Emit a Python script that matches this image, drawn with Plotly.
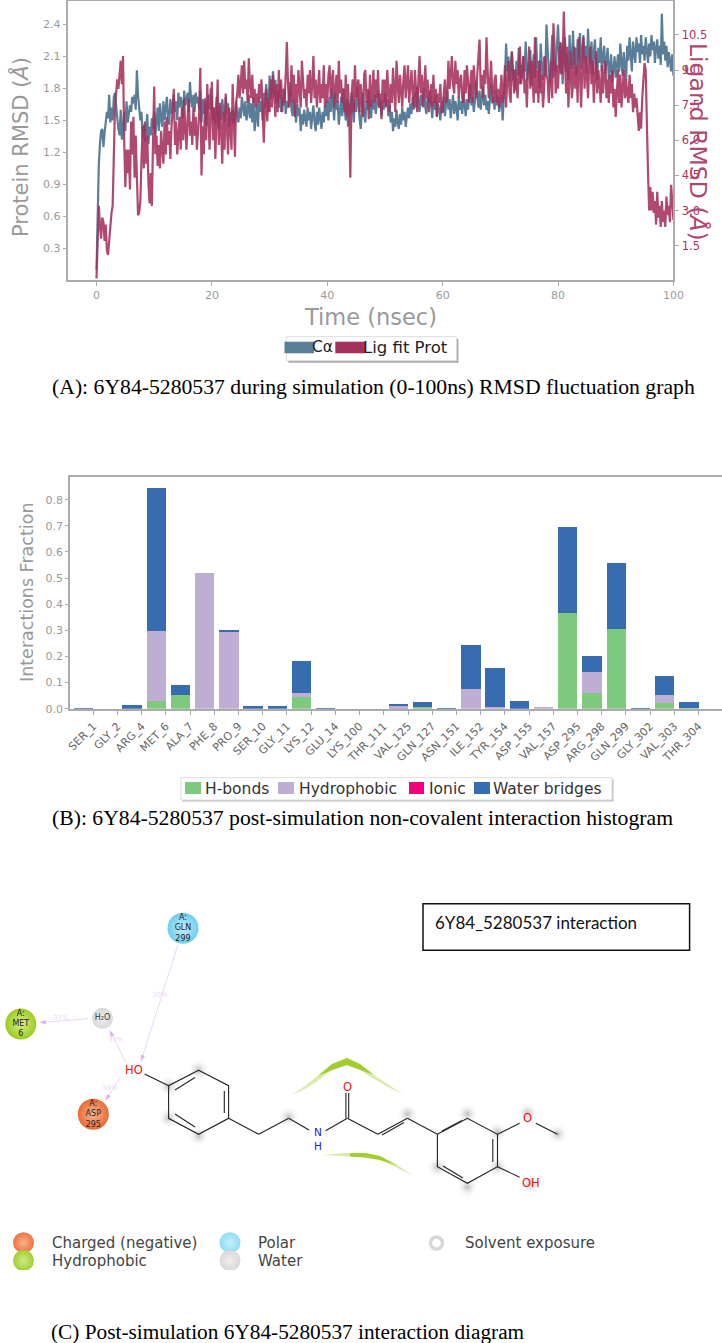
import plotly.graph_objects as go

W, H = 722, 1343

# ---------- Panel A data ----------
ca_rmsd = [
 0.10,0.62,1.08,1.28,1.40,1.42,1.25,1.38,1.46,1.58,1.52,1.74,1.48,1.62,1.50,1.72,1.76,1.60,1.52,1.42,1.36,1.60,1.32,1.44,1.58,1.40,1.68,1.48,1.56,1.64,1.58,1.72,1.66,1.74,1.60,1.97,1.74,1.62,1.50,1.58,1.34,1.46,1.30,1.42,1.56,1.28,1.44,1.36,1.52,1.42,
 1.58,1.36,1.48,1.62,1.40,1.66,1.52,1.44,1.68,1.50,1.60,1.72,1.54,1.46,1.70,1.56,1.64,1.74,1.58,1.68,1.50,1.76,1.62,1.72,1.66,1.52,1.78,1.64,1.70,1.76,1.58,1.86,1.70,1.62,1.74,1.58,1.76,1.66,1.72,1.60,1.78,1.48,1.70,1.56,1.68,1.45,1.62,1.74,1.60,1.80,
 1.66,1.50,1.62,1.46,1.72,1.56,1.42,1.64,1.50,1.70,1.60,1.48,1.72,1.56,1.66,1.44,1.58,1.50,1.60,1.46,1.52,1.68,1.56,1.48,1.62,1.52,1.72,1.60,1.54,1.68,1.50,1.58,1.74,1.52,1.66,1.48,1.72,1.40,1.56,1.66,1.44,1.72,1.58,1.68,1.50,1.76,1.62,1.84,1.70,1.58,
 1.92,1.70,1.80,1.96,1.72,1.88,1.66,1.78,1.62,1.84,1.58,1.72,1.64,1.80,1.56,1.68,1.62,1.76,1.86,1.60,1.54,1.70,1.60,1.48,1.66,1.54,1.62,1.40,1.56,1.46,1.60,1.52,1.44,1.62,1.50,1.58,1.42,1.54,1.64,1.48,1.40,1.58,1.46,1.62,1.52,1.42,1.58,1.48,1.64,1.54,
 1.68,1.50,1.72,1.58,1.80,1.62,1.50,1.76,1.60,1.68,1.46,1.58,1.72,1.54,1.80,1.62,1.50,1.70,1.44,1.66,1.56,1.76,1.62,1.48,1.70,1.58,1.82,1.64,1.52,1.42,1.66,1.76,1.56,1.48,1.68,1.60,1.78,1.64,1.52,1.70,1.60,1.74,1.56,1.66,1.78,1.62,1.70,1.54,1.68,1.60,
 1.76,1.64,1.70,1.54,1.64,1.48,1.58,1.40,1.52,1.44,1.60,1.48,1.42,1.56,1.46,1.62,1.50,1.58,1.44,1.54,1.62,1.52,1.66,1.56,1.72,1.60,1.76,1.62,1.82,1.66,1.58,1.74,1.64,1.70,1.80,1.62,1.56,1.72,1.66,1.78,1.60,1.52,1.68,1.60,1.74,1.54,1.66,1.60,1.50,1.64,
 1.58,1.72,1.54,1.66,1.78,1.60,1.70,1.52,1.62,1.74,1.56,1.68,1.62,1.50,1.72,1.60,1.68,1.56,1.76,1.62,1.54,1.70,1.60,1.74,1.84,1.64,1.72,1.58,1.68,1.86,1.72,1.62,1.78,1.60,1.70,1.82,1.64,1.74,1.60,1.68,1.56,1.76,1.84,1.66,1.72,1.60,1.78,1.64,1.72,1.58,
 1.68,1.74,1.50,1.66,1.90,2.22,1.96,2.10,1.86,2.02,2.14,1.88,1.98,1.78,2.06,1.92,2.18,1.84,2.02,1.90,2.10,1.96,2.24,1.88,2.04,1.94,2.16,1.82,2.00,2.12,1.90,2.28,1.98,2.06,1.80,2.22,2.00,1.88,2.10,1.92,2.40,2.08,1.96,1.84,2.14,2.30,1.90,2.06,1.96,2.18,
 2.40,2.12,1.94,2.22,1.84,2.04,2.28,1.96,2.12,1.88,2.30,2.10,1.98,2.34,2.02,2.18,1.92,2.26,2.08,2.32,1.98,2.14,2.30,2.06,2.20,1.94,2.36,2.10,2.02,2.24,1.92,2.14,2.26,2.00,1.88,2.18,2.04,2.28,1.96,2.10,2.20,1.94,2.06,2.18,1.88,2.02,2.12,1.86,1.98,2.10,
 1.90,2.04,2.12,1.96,2.22,2.04,1.92,2.14,2.00,1.88,2.20,2.06,2.28,2.10,1.96,2.24,2.10,2.04,2.28,2.14,2.22,2.04,2.30,2.12,2.20,2.06,2.28,2.14,2.04,2.22,2.10,2.30,2.16,2.24,2.04,2.18,2.26,2.08,2.20,2.02,2.50,2.12,2.24,2.06,2.20,2.00,2.14,2.06,1.96,2.12,
 1.92]
lig_rmsd = [
 0.10,1.9,3.2,2.4,1.8,2.7,2.5,1.7,2.4,1.3,1.1,1.7,2.4,2.9,3.2,5.0,7.4,8.0,8.6,8.2,9.0,9.4,8.4,9.6,6.0,4.0,5.6,4.6,5.6,3.9,6.8,5.4,7.0,4.4,6.2,4.6,2.8,2.9,3.4,5.2,6.6,4.8,6.8,5.0,6.2,4.2,3.3,4.6,3.2,6.0,
 8.3,5.4,6.2,4.9,5.8,4.8,6.4,5.6,5.0,6.8,5.4,7.0,5.8,6.4,5.2,6.6,7.2,8.2,5.8,6.8,5.4,6.2,7.0,5.6,7.4,6.0,7.8,6.4,5.6,7.0,7.8,6.2,6.8,5.8,7.4,6.2,7.0,5.6,6.4,7.2,9.1,4.5,6.6,5.4,7.8,6.0,8.4,6.4,5.6,7.2,
 8.5,6.0,7.4,5.2,6.8,8.6,5.8,7.6,6.4,5.0,7.2,5.6,8.0,6.8,5.4,7.4,6.2,5.6,8.4,7.0,5.3,7.6,8.0,8.8,7.8,8.4,9.2,8.0,9.4,8.2,8.6,7.6,9.5,8.4,7.8,8.8,7.6,8.2,7.4,8.0,7.6,8.4,7.8,8.6,7.0,5.9,7.4,8.2,6.8,7.8,
 7.2,8.6,7.4,8.8,8.0,7.0,8.4,7.2,9.0,7.8,8.6,7.2,8.2,7.6,8.8,10.2,8.4,7.4,8.0,9.2,7.6,8.8,7.0,8.4,7.6,9.0,8.2,7.4,9.4,8.6,7.8,8.2,7.4,8.8,8.0,9.0,7.6,8.4,9.6,7.8,8.6,7.4,8.2,9.0,7.6,8.4,7.8,9.2,7.4,8.4,
 7.6,8.8,9.2,7.8,8.6,9.0,7.4,8.2,8.8,7.6,9.4,8.0,8.6,7.6,8.2,7.2,8.8,7.0,8.4,7.2,4.4,7.8,8.6,7.2,9.2,7.8,8.4,8.6,7.2,8.4,7.6,7.0,8.8,9.0,7.6,8.2,6.9,8.8,7.4,8.0,9.0,7.6,8.6,7.8,9.0,7.4,8.0,6.9,8.6,7.6,
 8.6,7.4,9.0,7.8,7.2,8.4,7.6,9.1,8.0,7.2,9.4,8.2,7.6,8.8,8.0,7.4,8.6,9.2,7.8,8.4,9.2,7.6,8.4,9.0,8.0,7.4,9.0,8.2,7.2,8.6,9.6,8.0,8.8,7.4,8.2,9.2,7.8,8.6,7.2,8.0,8.4,7.4,8.8,7.6,8.2,7.0,8.0,7.6,8.4,7.2,
 7.2,8.0,8.6,7.6,7.8,9.4,8.2,8.8,9.6,8.4,8.0,9.4,8.4,9.0,7.8,8.6,8.8,7.8,7.6,9.0,8.0,9.2,8.6,7.6,8.4,9.0,7.6,9.2,8.4,7.8,8.8,9.6,10.3,8.2,8.8,7.8,9.0,8.4,10.4,9.0,7.8,8.4,9.4,8.0,7.6,8.6,8.8,7.6,8.2,7.4,
 8.2,8.8,7.6,8.0,9.2,7.4,8.6,9.4,8.0,7.6,9.8,8.6,8.0,9.0,8.4,7.8,9.2,10.0,8.4,8.8,9.6,8.0,8.6,7.4,9.0,10.0,8.2,9.4,8.6,7.6,10.4,8.0,9.0,7.6,9.4,8.0,8.8,7.4,8.2,9.6,8.8,8.6,7.6,8.4,9.4,7.8,11.0,10.0,8.0,9.2,
 8.2,9.6,10.2,8.8,9.4,11.5,9.2,8.0,10.0,7.4,8.8,9.8,7.8,8.4,10.0,8.2,9.2,7.6,10.4,8.6,7.4,9.0,10.4,8.2,9.6,8.8,7.8,9.2,10.0,8.4,9.4,7.6,8.6,9.8,8.0,9.0,8.4,7.6,9.2,8.0,8.8,9.4,7.8,8.6,7.6,8.8,8.0,9.0,7.4,8.2,
 7.0,8.2,9.0,7.6,8.8,7.4,8.4,9.0,7.8,8.6,8.0,7.6,8.8,7.8,8.4,7.2,8.0,7.4,7.8,6.8,6.4,7.2,6.5,7.8,8.6,9.3,9.0,6.0,4.6,3.0,4.0,3.0,3.8,2.9,3.4,2.4,3.8,2.7,3.2,2.3,3.4,2.5,3.0,2.3,3.6,2.8,3.2,2.5,4.1,3.4,
 2.6]
time_ca = [i * 100 / (len(ca_rmsd) - 1) for i in range(len(ca_rmsd))]
time_lig = [i * 100 / (len(lig_rmsd) - 1) for i in range(len(lig_rmsd))]

# ---------- Panel B data ----------
residues = ["SER_1","GLY_2","ARG_4","MET_6","ALA_7","PHE_8","PRO_9","SER_10","GLY_11","LYS_12","GLU_14","LYS_100","THR_111",
            "VAL_125","GLN_127","ASN_151","ILE_152","TYR_154","ASP_155","VAL_157","ASP_295","ARG_298","GLN_299","GLY_302","VAL_303","THR_304"]
hbonds = [0,0,0,.03,.055,0,0,0,0,.046,0,0,0,.001,.006,0,0,0,0,0,.368,.062,.306,0,.022,.004]
hydrophobic = [0,0,0,.268,0,.522,.296,0,0,.015,0,0,0,.011,0,0,.078,.007,0,.006,0,.078,0,0,.033,0]
ionic = [0]*26
water = [.003,0,.017,.548,.036,0,.003,.013,.012,.124,.003,0,0,.006,.02,.003,.166,.151,.032,0,.33,.064,.254,.003,.073,.024]
positions = list(range(len(residues)))
tick_pos = [p + 0.4 for p in positions]

# ---------- Panel C data (diagram, in page pixels) ----------
r1 = [(198.6,1070.3),(228.6,1085.7),(228.6,1118.3),(198.6,1134.3),(168.6,1118.3),(168.6,1085.7)]
r2 = [(437.4,1134.3),(467.4,1118.3),(497.5,1134.3),(497.5,1166.7),(467.4,1183.3),(437.4,1166.7)]
bonds = [
 ((144.6,1074),(168.6,1085.7)),((228.6,1118.3),(258.7,1134.3)),((258.7,1134.3),(288.7,1118.3)),
 ((288.7,1118.3),(309,1130)),((325.6,1130.7),(347.3,1118.3)),((347.3,1118.3),(377.8,1134.3)),
 ((377.8,1134.3),(407.4,1118.3)),((407.4,1118.3),(437.4,1134.3)),((497.5,1134.3),(519.6,1123.3)),
 ((535.8,1123.3),(557.5,1134.3)),((497.5,1166.7),(519.6,1177.3)),((345.9,1118.3),(345.9,1093)),((348.7,1118.3),(348.7,1093)),
]
inner = [
 ((175,1090),(195,1077.5)),((224.3,1091),(224.3,1113)),((175,1114),(195,1127)),
 ((382,1135),(404,1122.5)),((442,1131),(462,1120.5)),((492.8,1139),(492.8,1162)),((443,1166),(463,1178)),
]
exposure = [(198.6,1070),(168.6,1086),(168.6,1118),(198.6,1136),(407.4,1114),(467.4,1114),(497.5,1132),(557.5,1134),
            (437.4,1167),(497.5,1167),(467.4,1187),(531,1184),(527.5,1113),(288.7,1117)]
atom_text = [("HO",134,1070,"#f01010"),("O",347.3,1086.5,"#f01010"),("N",317.8,1132,"#2020e0"),("H",317.8,1146,"#2020e0"),
             ("O",527.5,1118.3,"#f01010"),("OH",531,1182.7,"#f01010")]
residue_x = [183,20.8,93.3]
residue_y = [928.3,1024,1114.3]
residue_text = ["A:<br>GLN<br>299","A:<br>MET<br>6","A:<br>ASP<br>295"]
residue_fill = ["#70cdee","#9ccc20","#ea6a33"]
residue_glow = ["#c4edfa","#d5ee8c","#f6b596"]
arrows = [((177.8,945),(140.9,1061.7)),((87.8,1018.7),(39.3,1022.7)),((125.6,1061.7),(109.5,1030)),((121,1076.7),(105.3,1100.7))]
arrow_labels = [("30%",160.3,995),("37%",61,1018),("37%",115.5,1040),("36%",110,1088.3)]
arc_top_pale = [(292,1095),(305,1086),(318,1075.5),(332,1064),(347,1058),(360,1064),(374,1075),(390,1086),(404,1095),(390,1088),(374,1079),(360,1070),(347,1065),(332,1070),(318,1080.5),(305,1089),(292,1095)]
arc_top_core = [(318,1076),(332,1064),(347,1058),(360,1064),(374,1075),(360,1070),(347,1065),(332,1070),(318,1076)]
arc_bot_pale = [(323,1155),(345,1153),(365,1153),(380,1156),(396,1164),(413,1176),(396,1167),(380,1160),(365,1157.5),(345,1156.5),(323,1155)]
arc_bot_core = [(350,1153.2),(365,1153),(380,1156),(396,1165),(380,1160),(365,1157.5),(350,1156.5),(350,1153.2)]
key_dots = [(23.5,1242.7,"#ee7440","#f8b090"),(23.5,1260.5,"#a0d030","#cfe98a"),(230,1242.7,"#8fdcf6","#c8f0fc"),(230,1260.5,"#d8d8d8","#eeeeee")]
key_text = [("Charged (negative)",51.7,1242.7),("Hydrophobic",51.7,1261),("Polar",258,1242.7),("Water",258,1261),("Solvent exposure",465,1242.7)]

BLUE = "#5b7f99"; RED = "#a5305c"; GREY = "#9a9a9a"; SPINE = "#ababab"
px = lambda x: x / W
py = lambda y: 1 - y / H

fig = go.Figure()

# Panel A
fig.add_trace(go.Scatter(x=time_ca, y=ca_rmsd, name="Cα", mode="lines", line=dict(color=BLUE, width=2.2), xaxis="x", yaxis="y", showlegend=False))
fig.add_trace(go.Scatter(x=time_lig, y=lig_rmsd, name="Lig fit Prot", mode="lines", opacity=0.88, line=dict(color=RED, width=2.2), xaxis="x", yaxis="y2", showlegend=False))

# Panel B
for name, vals, col in [("H-bonds", hbonds, "#7fc97f"), ("Hydrophobic", hydrophobic, "#beaed4"), ("Ionic", ionic, "#f0027f"), ("Water bridges", water, "#386cb0")]:
    fig.add_trace(go.Bar(x=positions, y=vals, name=name, width=0.8, marker=dict(color=col, line=dict(width=0)), xaxis="x2", yaxis="y3", showlegend=False))

# Panel C
def seg(p, q, color, width):
    fig.add_trace(go.Scatter(x=[p[0], q[0]], y=[p[1], q[1]], mode="lines", line=dict(color=color, width=width), xaxis="x3", yaxis="y4", showlegend=False, hoverinfo="skip"))

fig.add_trace(go.Scatter(x=[p[0] for p in exposure], y=[p[1] for p in exposure], mode="markers",
    marker=dict(size=22, color="rgba(255,255,255,0)", gradient=dict(type="radial", color="rgba(165,165,165,0.7)"), line=dict(width=0)),
    xaxis="x3", yaxis="y4", showlegend=False, hoverinfo="skip"))
for poly, col in [(arc_top_pale, "rgba(170,210,60,0.45)"), (arc_top_core, "rgba(150,200,25,0.85)"),
                  (arc_bot_pale, "rgba(170,210,60,0.45)"), (arc_bot_core, "rgba(150,200,25,0.85)")]:
    fig.add_trace(go.Scatter(x=[p[0] for p in poly], y=[p[1] for p in poly], mode="lines", fill="toself", fillcolor=col,
        line=dict(width=0, color=col), xaxis="x3", yaxis="y4", showlegend=False, hoverinfo="skip"))
for ring in (r1, r2):
    xs = [p[0] for p in ring] + [ring[0][0]]
    ys = [p[1] for p in ring] + [ring[0][1]]
    fig.add_trace(go.Scatter(x=xs, y=ys, mode="lines", line=dict(color="#222", width=1.1), xaxis="x3", yaxis="y4", showlegend=False, hoverinfo="skip"))
for p, q in bonds + inner:
    seg(p, q, "#222", 1.1)
for p, q in arrows:
    fig.add_trace(go.Scatter(x=[p[0], q[0]], y=[p[1], q[1]], mode="lines+markers", line=dict(color="#f0d4fa", width=1),
        marker=dict(symbol="arrow", angleref="previous", size=[0, 7], color="#d98cf0", line=dict(width=0)),
        xaxis="x3", yaxis="y4", showlegend=False, hoverinfo="skip"))
fig.add_trace(go.Scatter(x=residue_x, y=residue_y, mode="markers+text", text=residue_text, textposition="middle center",
    textfont=dict(family="DejaVu Sans", size=8, color="#222"),
    marker=dict(size=31, color=residue_fill, gradient=dict(type="radial", color=residue_glow), line=dict(width=0)),
    xaxis="x3", yaxis="y4", showlegend=False, hoverinfo="skip"))
fig.add_trace(go.Scatter(x=[102.5], y=[1018.3], mode="markers+text", text=["H₂O"], textposition="middle center",
    textfont=dict(family="DejaVu Sans", size=8, color="#333"),
    marker=dict(size=21, color="#d8d8d8", gradient=dict(type="radial", color="#f0f0f0"), line=dict(width=0)),
    xaxis="x3", yaxis="y4", showlegend=False, hoverinfo="skip"))
fig.add_trace(go.Scatter(x=[k[0] for k in key_dots], y=[k[1] for k in key_dots], mode="markers",
    marker=dict(size=21, color=[k[2] for k in key_dots], gradient=dict(type="radial", color=[k[3] for k in key_dots]), line=dict(width=0)),
    xaxis="x3", yaxis="y4", showlegend=False, hoverinfo="skip"))
fig.add_trace(go.Scatter(x=[436.5], y=[1243], mode="markers",
    marker=dict(size=12, color="rgba(255,255,255,1)", line=dict(color="rgba(175,175,175,0.5)", width=3.5)),
    xaxis="x3", yaxis="y4", showlegend=False, hoverinfo="skip"))

ann = []
def label(text, x, y, size, color, family="DejaVu Sans", xanchor="left", angle=0):
    ann.append(dict(text=text, x=px(x), y=py(y), xref="paper", yref="paper", xanchor=xanchor, yanchor="middle",
                    showarrow=False, textangle=angle, font=dict(family=family, size=size, color=color)))

label("Protein RMSD (<i>Å</i>)", 20, 147, 21, "#999999", xanchor="center", angle=-90)
label("Ligand RMSD (<i>Å</i>)", 698, 142, 23.5, "#b0486e", xanchor="center", angle=90)
label("Time (nsec)", 370, 317, 22.5, "#999999", xanchor="center")
label("Cα", 310, 347, 15.5, "#222222")
label("Lig fit Prot", 361, 347, 16.5, "#222222")
label("(A): 6Y84-5280537 during simulation (0-100ns) RMSD fluctuation graph", 50, 387, 21.7, "#000000", "Liberation Serif")
label("Interactions Fraction", 27, 593, 17.5, "#999999", xanchor="center", angle=-90)
for t, x in [("H-bonds", 203), ("Hydrophobic", 297), ("Ionic", 427), ("Water bridges", 491)]:
    label(t, x, 788.5, 15.5, "#333333")
label("(B): 6Y84-5280537 post-simulation non-covalent interaction histogram", 50, 817.5, 21.7, "#000000", "Liberation Serif")
label("6Y84_5280537 interaction", 433, 923, 17, "#111111", "Lato")
label("(C) Post-simulation 6Y84-5280537 interaction diagram", 49, 1332, 21.3, "#000000", "Liberation Serif")
for t, x, y, c in atom_text:
    label(t, x, y, 10.5 if t in ("N", "H") else 11.5, c, "DejaVu Sans", xanchor="center")
for t, x, y in arrow_labels:
    label(t, x, y, 7, "#f0d4fa", xanchor="center")
for t, x, y in key_text:
    label(t, x - 2, y, 15, "#444444")

def rect(x0, y0, x1, y1, fill="rgba(0,0,0,0)", line=None, lw=0):
    return dict(type="rect", xref="paper", yref="paper", x0=px(x0), x1=px(x1), y0=py(y0), y1=py(y1), fillcolor=fill,
                line=dict(color=line or "rgba(0,0,0,0)", width=lw), layer="above")

shapes = [
    rect(288.4, 338.7, 458.4, 362.7, "#a8a8a8"),
    rect(286.4, 336.7, 456.4, 360.7, "#ffffff", "#dddddd", 1),
    rect(284.5, 341.7, 314, 353.3, BLUE),
    rect(335.3, 341.7, 365, 353.3, RED),
    rect(182.5, 779.5, 613.5, 801.5, "#b8b8b8"),
    rect(181, 777.7, 612, 800, "#ffffff", "#dddddd", 1),
    rect(185, 782, 201, 794, "#7fc97f"),
    rect(278, 782, 294, 794, "#beaed4"),
    rect(409, 782, 424, 794, "#f0027f"),
    rect(474, 782, 490, 794, "#386cb0"),
    rect(423, 903.7, 689.6, 950.3, "rgba(0,0,0,0)", "#111111", 1.5),
    rect(0, 1270, 722, 1290, "#ffffff"),
]

tick = dict(family="DejaVu Sans", size=11, color=GREY)
fig.update_layout(
    width=W, height=H, margin=dict(l=0, r=0, t=0, b=0, autoexpand=False), paper_bgcolor="white", plot_bgcolor="white",
    barmode="stack", bargap=0, showlegend=False, annotations=ann, shapes=shapes,
    xaxis=dict(automargin=False, domain=[px(68.4), px(673.4)], range=[-4.87, 100], anchor="y", tickvals=[0, 20, 40, 60, 80, 100], ticks="outside", ticklen=4,
               tickcolor=SPINE, tickfont=tick, showgrid=False, zeroline=False, showline=True, linecolor=SPINE, linewidth=1.5, mirror=True),
    yaxis=dict(automargin=False, domain=[py(280.3), py(1)], range=[0.0, 2.62], anchor="x", tickvals=[.3, .6, .9, 1.2, 1.5, 1.8, 2.1, 2.4], tickformat=".1f", ticks="outside", ticklen=4,
               tickcolor=SPINE, tickfont=tick, showgrid=False, zeroline=False, showline=True, linecolor=SPINE, linewidth=1.5, mirror=True),
    yaxis2=dict(automargin=False, domain=[py(280.3), py(1)], range=[0.02, 11.95], overlaying="y", side="right", anchor="x", tickvals=[1.5, 3, 4.5, 6, 7.5, 9, 10.5], tickformat=".1f",
                ticks="outside", ticklen=5, tickcolor=SPINE, tickfont=dict(family="DejaVu Sans", size=11.5, color="#b0305e"), showgrid=False, zeroline=False),
    xaxis2=dict(automargin=False, domain=[px(70), 1], range=[-0.562, 26.37], anchor="y3", tickmode="array", tickvals=tick_pos, ticktext=residues, tickangle=-45, ticks="outside", ticklen=5,
                tickcolor=SPINE, tickfont=dict(family="DejaVu Sans", size=11, color="#666666"), showgrid=False, zeroline=False, showline=True, linecolor=SPINE, linewidth=1.5, mirror=True),
    yaxis3=dict(automargin=False, domain=[py(708.7), py(476.7)], range=[0, 0.888], anchor="x2", tickvals=[0, .1, .2, .3, .4, .5, .6, .7, .8], tickformat=".1f", ticks="outside", ticklen=3,
                tickcolor=SPINE, tickfont=tick, showgrid=False, zeroline=False, showline=True, linecolor=SPINE, linewidth=1.5),
    xaxis3=dict(automargin=False, domain=[0, 1], range=[0, W], anchor="y4", visible=False),
    yaxis4=dict(automargin=False, domain=[0, py(890)], range=[H, 890], anchor="x3", visible=False),
)

fig.write_html("out.html", config={"displayModeBar": False},
               post_script="document.body.style.margin='0';document.documentElement.style.overflow='hidden';")
